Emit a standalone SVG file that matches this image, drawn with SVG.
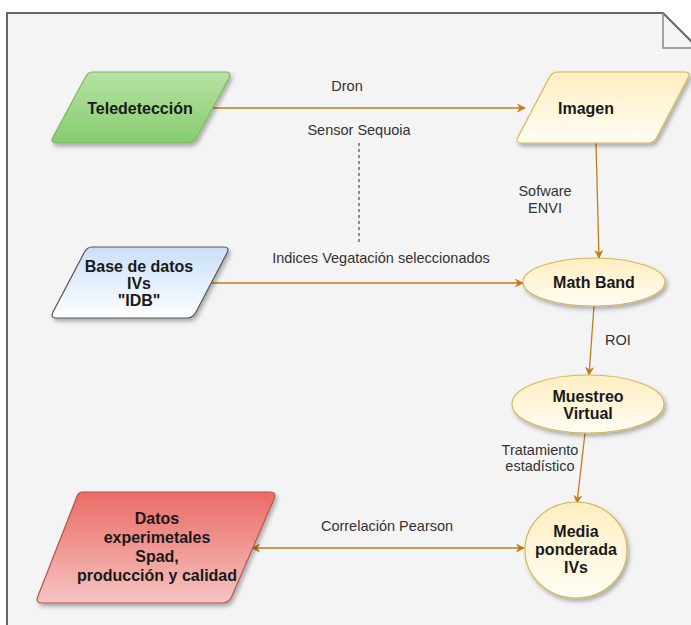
<svg xmlns="http://www.w3.org/2000/svg" width="691" height="625" viewBox="0 0 691 625">
<style>
.node{font-family:"Liberation Sans",Arial,sans-serif;font-weight:bold;font-size:16px;fill:#1a1a1a;text-anchor:middle}
.lbl{font-family:"Liberation Sans",Arial,sans-serif;font-size:14.5px;fill:#333;text-anchor:middle}
.edge{fill:none;stroke:#c27c1a;stroke-width:1.3}
.shape{stroke-width:1.2;stroke-linejoin:round;filter:url(#sh)}
</style>
<defs>
<filter id="sh" x="-20%" y="-20%" width="140%" height="150%">
<feDropShadow dx="2" dy="3" stdDeviation="2" flood-color="#000" flood-opacity="0.3"/>
</filter>
<linearGradient id="gGreen" x1="0" y1="0" x2="0" y2="1"><stop offset="0" stop-color="#b7e2a3"/><stop offset="1" stop-color="#86cc6f"/></linearGradient>
<linearGradient id="gYellow" x1="0" y1="0" x2="0" y2="1"><stop offset="0" stop-color="#ffeec0"/><stop offset="1" stop-color="#fffdf5"/></linearGradient>
<linearGradient id="gBlue" x1="0" y1="0" x2="0" y2="1"><stop offset="0" stop-color="#c9dff8"/><stop offset="1" stop-color="#ffffff"/></linearGradient>
<linearGradient id="gRed" x1="0" y1="0" x2="0" y2="1"><stop offset="0" stop-color="#ea6b66"/><stop offset="1" stop-color="#f6c4c2"/></linearGradient>
<marker id="arr" viewBox="0 0 10 10" refX="9" refY="5" markerWidth="9" markerHeight="9" orient="auto-start-reverse" markerUnits="userSpaceOnUse">
<path d="M0,0 L10,5 L0,10 L3,5 Z" fill="#c27c1a"/>
</marker>
</defs>
<rect width="691" height="625" fill="#ffffff"/>
<g id="page">
<path d="M7,630 V13 H663 L700,50 V630" fill="#f4f4f4" stroke="#666" stroke-width="2"/>
<path d="M663,13 V48 H695" fill="none" stroke="#888" stroke-width="1.5"/>
</g>
<g id="connectors">
<path class="edge" d="M212,108 H525" marker-end="url(#arr)"/>
<path d="M359,143 V245" fill="none" stroke="#222" stroke-width="1" stroke-dasharray="3,3"/>
<path class="edge" d="M596,143 L599,258" marker-end="url(#arr)"/>
<path class="edge" d="M212,283 H523" marker-end="url(#arr)"/>
<path class="edge" d="M594,306 L589,375" marker-end="url(#arr)"/>
<path class="edge" d="M585,433 L577,503" marker-end="url(#arr)"/>
<path class="edge" d="M252,548 H524" marker-start="url(#arr)" marker-end="url(#arr)"/>
<text class="lbl" x="347" y="91">Dron</text>
<text class="lbl" x="359" y="135">Sensor Sequoia</text>
<text class="lbl" x="381" y="263">Indices Vegatación seleccionados</text>
<text class="lbl" x="545" y="196">Sofware</text>
<text class="lbl" x="545" y="213">ENVI</text>
<text class="lbl" x="618" y="345">ROI</text>
<text class="lbl" x="540" y="455">Tratamiento</text>
<text class="lbl" x="540" y="471">estadístico</text>
<text class="lbl" x="387" y="531">Correlación Pearson</text>
</g>
<g id="teledeteccion">
<path class="shape" d="M92,72 H226 Q232,72 229,78 L197,137 Q194,143 188,143 H56 Q50,143 53,137 L85,78 Q88,72 92,72 Z" fill="url(#gGreen)" stroke="#82b366"/>
<text class="node" x="140" y="114">Teledetección</text>
</g>
<g id="imagen">
<path class="shape" d="M557,72 H685 Q691,72 688,78 L657,137 Q654,143 648,143 H521 Q515,143 518,137 L549,78 Q552,72 557,72 Z" fill="url(#gYellow)" stroke="#d6b656"/>
<text class="node" x="586" y="114">Imagen</text>
</g>
<g id="base-datos">
<path class="shape" d="M92,247 H224 Q230,247 227,253 L196,312 Q193,318 187,318 H56 Q50,318 53,312 L84,253 Q87,247 92,247 Z" fill="url(#gBlue)" stroke="#555"/>
<text class="node" x="139" y="272">Base de datos</text>
<text class="node" x="139" y="289">IVs</text>
<text class="node" x="139" y="306">"IDB"</text>
</g>
<g id="math-band">
<ellipse class="shape" cx="594" cy="282" rx="71" ry="24" fill="url(#gYellow)" stroke="#d6b656"/>
<text class="node" x="594" y="288">Math Band</text>
</g>
<g id="muestreo">
<ellipse class="shape" cx="588" cy="404" rx="76" ry="29" fill="url(#gYellow)" stroke="#d6b656"/>
<text class="node" x="588" y="402">Muestreo</text>
<text class="node" x="588" y="419">Virtual</text>
</g>
<g id="media">
<ellipse class="shape" cx="576" cy="550" rx="51" ry="48" fill="url(#gYellow)" stroke="#d6b656"/>
<text class="node" x="576" y="537">Media</text>
<text class="node" x="576" y="555">ponderada</text>
<text class="node" x="576" y="573">IVs</text>
</g>
<g id="datos">
<path class="shape" d="M82,492 H270 Q277,492 274,499 L232,596 Q229,603 222,603 H42 Q35,603 38,596 L76,499 Q78,492 82,492 Z" fill="url(#gRed)" stroke="#b85450"/>
<text class="node" x="157" y="524">Datos</text>
<text class="node" x="157" y="543">experimetales</text>
<text class="node" x="157" y="562">Spad,</text>
<text class="node" x="157" y="581">producción y calidad</text>
</g>
</svg>
